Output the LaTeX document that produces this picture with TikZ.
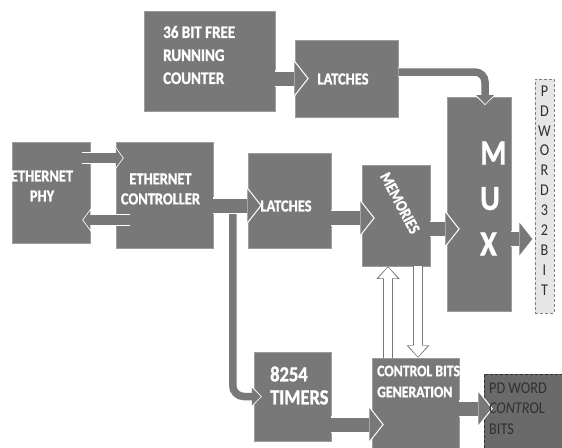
\documentclass[tikz,border=0pt]{standalone}
\usepackage{fontspec}
\setmainfont{Carlito}[FakeStretch=0.86, BoldFeatures={FakeBold=1.2}]
\usetikzlibrary{arrows.meta}
\definecolor{blk_gray}{HTML}{787878}
\definecolor{blk_edge}{HTML}{9C9C9C}
\definecolor{pd_gray}{HTML}{6A6A6A}
\definecolor{strip_gray}{HTML}{E6E6E6}
\definecolor{txt_dark}{HTML}{303030}

\begin{document}
\begin{tikzpicture}[
    x=1pt, y=-1pt,
    blk/.style={fill=blk_gray, draw=blk_edge, line width=0.5pt, inner sep=0pt},
    blktxt/.style={text=white, font=\bfseries\fontsize{16.8}{20}\selectfont, inner sep=0pt, align=center},
    barrow/.style={blk_gray, line width=14pt, shorten >=1.5pt,
        -{Triangle[length=13pt, width=33pt, line width=0pt]},
        preaction={draw=white, line width=16.5pt, shorten >=0pt,
            -{Triangle[length=15pt, width=38pt, line width=0pt]}}},
    tarrow/.style={blk_gray, line width=7.5pt, shorten >=1pt,
        -{Triangle[length=9pt, width=18pt, line width=0pt]},
        preaction={draw=white, line width=9.5pt, shorten >=0pt,
            -{Triangle[length=10.5pt, width=22pt, line width=0pt]}}},
    sarrow/.style={blk_gray, line width=10pt, shorten >=1pt,
        -{Triangle[length=7pt, width=19pt, line width=0pt]},
        preaction={draw=white, line width=12pt, shorten >=0pt,
            -{Triangle[length=8.5pt, width=23pt, line width=0pt]}}},
    harrow/.style={white, line width=8.5pt, shorten >=1pt,
        -{Triangle[length=11pt, width=19pt, line width=0pt]},
        preaction={draw=blk_gray, line width=10.5pt, shorten >=0pt,
            -{Triangle[length=12.5pt, width=23pt, line width=0pt]}}}
]
\useasboundingbox (0,0) rectangle (562,447);

% ---- blocks ----
\node[blk, minimum width=131pt, minimum height=100pt] (cnt)  at (209.5, 61)  {};
\node[blk, minimum width=103pt, minimum height=77pt]  (latA) at (346.5, 78.5) {};
\node[blk, minimum width=64pt,  minimum height=214pt] (mux)  at (479, 204)   {};
\node[blk, minimum width=78pt,  minimum height=101pt] (phy)  at (51, 192.5)  {};
\node[blk, minimum width=97pt,  minimum height=106pt] (ctrl) at (164.5, 195) {};
\node[blk, minimum width=83pt,  minimum height=95pt]  (latB) at (289.5, 200.5) {};
\node[blk, minimum width=68pt,  minimum height=101pt] (mem)  at (396, 215.5) {};
\node[blk, minimum width=77pt,  minimum height=89pt]  (tim)  at (292.5, 396.5) {};
\node[blk, minimum width=87pt,  minimum height=94pt]  (cbg)  at (415.5, 405) {};
\node[fill=pd_gray, draw=txt_dark, densely dashed, line width=0.4pt,
      minimum width=78pt, minimum height=78pt] (pdc) at (523, 413) {};
\node[fill=strip_gray, draw=gray, densely dashed, line width=0.4pt,
      minimum width=19pt, minimum height=234pt, inner sep=0pt] (strip) at (544.5, 196) {};

% ---- arrow ends ----
\coordinate (muxtop) at (485, 105);
\coordinate (latBin) at ([xshift=14pt, yshift=-5pt]latB.west);
\coordinate (memin)  at ([xshift=13pt, yshift=-2.5pt]mem.west);
\coordinate (muxin)  at ([xshift=13pt, yshift=-25pt]mux.west);
\coordinate (stripin) at ([xshift=-1pt, yshift=-43pt]strip.west);
\coordinate (timin)  at ([xshift=8pt]tim.west);
\coordinate (cbgin)  at ([xshift=12pt, yshift=-19.5pt]cbg.west);
\coordinate (pdcin)  at ([xshift=9pt, yshift=4.5pt]pdc.west);
\coordinate (phyout) at ([xshift=-8pt, yshift=34.5pt]phy.east);
\coordinate (ctrlin) at ([xshift=8pt, yshift=37pt]ctrl.west);
\coordinate (ctrlout) at ([xshift=14pt, yshift=-25pt]ctrl.west);
\coordinate (phyin)  at ([xshift=-8pt, yshift=-27.5pt]phy.east);
\coordinate (memup)  at ([xshift=-8pt]mem.south);
\coordinate (cbgdn)  at ([xshift=2.5pt]cbg.north);

% ---- connectors ----
\draw[barrow] (cnt.east |- latA.west) -- ([xshift=14pt]latA.west);
\draw[tarrow, rounded corners=10pt] ([yshift=6.5pt]latA.east) -| (muxtop);
\draw[tarrow, rounded corners=11pt] ([xshift=-29pt]latBin) |- (timin);
\draw[barrow] (ctrl.east |- latBin) -- (latBin);
\draw[barrow] (latB.east |- memin) -- (memin);
\draw[barrow] (mem.east |- muxin) -- (muxin);
\draw[barrow] (mux.east |- stripin) -- (stripin);
\draw[barrow] (tim.east |- cbgin) -- (cbgin);
\draw[barrow] (cbg.east |- pdcin) -- (pdcin);
\draw[sarrow] (phyout) -- (ctrlin);
\draw[sarrow] (ctrlout) -- (phyin);
\draw[harrow] (cbg.north -| memup) -- (memup);
\draw[harrow] (mem.south -| cbgdn) -- (cbgdn);

% ---- texts ----
\node[blktxt, align=left, anchor=west, font=\bfseries\fontsize{17.5}{23}\selectfont]
    (cnttxt) at (163, 55) {36 BIT FREE\\RUNNING\\COUNTER};
\node[blktxt] (latAtxt) at (343, 79) {LATCHES};
\node[blktxt, align=left, anchor=west, font=\bfseries\fontsize{35}{45.5}\selectfont]
    (muxtxt) at (480, 198.5) {M\\U\\X};
\node[blktxt, text=txt_dark, font=\fontsize{16.5}{19.9}\selectfont]
    (striptxt) at (544.5, 190.5) {P\\D\\W\\O\\R\\D\\3\\2\\B\\I\\T};
\node[blktxt] (phytxt) at (42, 186) {ETHERNET\\PHY};
\node[blktxt] (ctrltxt) at (160.5, 189) {ETHERNET\\CONTROLLER};
\node[blktxt] (latBtxt) at (286, 206) {LATCHES};
\node[blktxt, rotate=-62, font=\bfseries\fontsize{16.5}{20}\selectfont] (memtxt) at (400, 203) {MEMORIES};
\node[blktxt, align=left, anchor=west, font=\bfseries\fontsize{21.5}{23}\selectfont]
    (timtxt) at (270, 385.5) {8254\\TIMERS};
\node[blktxt, align=left, anchor=west, font=\bfseries\fontsize{16}{21}\selectfont]
    (cbgtxt) at (377, 381.5) {CONTROL BITS\\GENERATION};
\node[blktxt, align=left, anchor=west, text=txt_dark, font=\fontsize{16.5}{20.5}\selectfont]
    (pdctxt) at (489, 408.5) {PD WORD\\\textit{CONTR}OL\\BITS};

\end{tikzpicture}
\end{document}
